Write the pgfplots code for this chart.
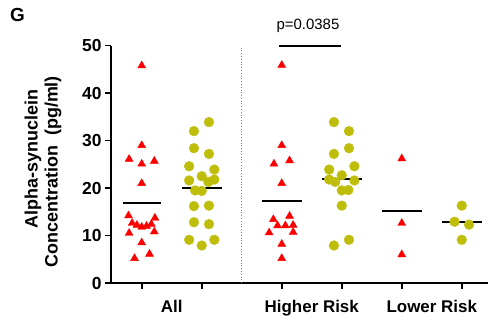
\documentclass[border=0pt]{standalone}
\usepackage{pgfplots}
\pgfplotsset{compat=1.18}
\usepackage{fontspec}
\setmainfont{Liberation Sans}
\definecolor{myred}{RGB}{250,0,0}
\definecolor{myyel}{RGB}{190,190,10}
\begin{document}
\begin{tikzpicture}
\path[use as bounding box] (0,0) rectangle (489bp,320bp);
\begin{axis}[
  at={(111bp,37bp)}, anchor=south west,
  scale only axis, width=377bp, height=237.3bp,
  xmin=-0.512, xmax=5.77, ymin=0, ymax=50,
  axis x line*=bottom, axis y line*=left,
  axis line style={line width=1.6bp, black},
  tick style={line width=1.6bp, black},
  tick align=outside, major tick length=6bp,
  xtick={0,1,2.3333,3.3333,4.3333,5.3333},
  xticklabels={},
  ytick={0,10,20,30,40,50},
  yticklabel style={font=\fontsize{17.5}{17.5}\selectfont\bfseries},
  /pgf/number format/assume math mode=true,
  clip=false,
]
% separator
\addplot[gray, dotted, line width=0.8bp] coordinates {(1.6667,0) (1.6667,50)};
% All red
\addplot[only marks, mark=triangle*, mark size=4.6pt, myred, mark options={draw=none, fill=myred}] coordinates {
(0,45.8) (0,29.0) (-0.21,26.1) (0,25.1) (0.21,25.7) (0,21.0) (-0.22,14.2) (0.22,13.7)
(-0.16,12.6) (-0.08,12.2) (0,11.8) (0.08,12.0) (0.16,12.4)
(-0.21,10.5) (0.21,10.8) (0,8.5) (0.13,6.1) (-0.12,5.2)};
% All yellow
\addplot[only marks, mark=*, mark size=4.9pt, myyel, mark options={draw=none, fill=myyel}] coordinates {
(1.12,33.9) (0.87,32.0) (0.87,28.4) (1.12,27.2) (0.79,24.6) (1.21,23.9) (0.79,21.6) (1.0,22.5)
(1.21,21.8) (1.11,21.3) (0.89,19.5) (1.0,19.4) (0.87,16.2) (1.12,16.3) (0.87,12.8) (1.12,12.4)
(0.79,9.1) (1.0,7.9) (1.21,9.1)};
% Higher red
\addplot[only marks, mark=triangle*, mark size=4.6pt, myred, mark options={draw=none, fill=myred}] coordinates {
(2.3333,45.9) (2.3333,29.0) (2.2033,25.1) (2.4633,25.8) (2.3333,21.0) (2.1933,13.4) (2.4633,14.1)
(2.2633,12.1) (2.3933,12.1) (2.5233,12.2) (2.1233,10.6) (2.5233,10.7) (2.3333,8.2) (2.3333,5.2)};
% Higher yellow
\addplot[only marks, mark=*, mark size=4.9pt, myyel, mark options={draw=none, fill=myyel}] coordinates {
(3.2033,33.9) (3.4533,32.0) (3.4533,28.4) (3.2033,27.2) (3.5433,24.6) (3.1233,23.9) (3.3333,22.7)
(3.1233,21.8) (3.2233,21.3) (3.5433,21.6) (3.3333,19.5) (3.4433,19.6) (3.3333,16.3) (3.4533,9.1) (3.2033,7.9)};
% Lower red
\addplot[only marks, mark=triangle*, mark size=4.6pt, myred, mark options={draw=none, fill=myred}] coordinates {
(4.3333,26.2) (4.3333,12.6) (4.3333,6.0)};
% Lower yellow
\addplot[only marks, mark=*, mark size=4.9pt, myyel, mark options={draw=none, fill=myyel}] coordinates {
(5.3333,16.3) (5.2133,12.9) (5.4533,12.3) (5.3333,9.1)};
% means
\addplot[black, line width=2bp] coordinates {(-0.32,16.9) (0.32,16.9)};
\addplot[black, line width=2bp] coordinates {(0.67,20.1) (1.33,20.1)};
\addplot[black, line width=2bp] coordinates {(2.0,17.3) (2.6667,17.3)};
\addplot[black, line width=2bp] coordinates {(3.0,22.0) (3.6667,22.0)};
\addplot[black, line width=2bp] coordinates {(4.0,15.1) (4.6667,15.1)};
\addplot[black, line width=2bp] coordinates {(5.0,12.8) (5.6667,12.8)};
% significance bar
\addplot[black, line width=2bp] coordinates {(2.29,49.9) (3.32,49.9)};
% group labels
\node[anchor=base, font=\fontsize{17}{17}\selectfont\bfseries] at (axis cs:0.5,0) [yshift=-29.7bp] {All};
\node[anchor=base, font=\fontsize{17}{17}\selectfont\bfseries] at (axis cs:2.8333,0) [yshift=-29.7bp] {Higher Risk};
\node[anchor=base, font=\fontsize{17}{17}\selectfont\bfseries] at (axis cs:4.8333,0) [yshift=-29.7bp] {Lower Risk};
\end{axis}
\node[rotate=90, font=\fontsize{18}{18}\selectfont\bfseries, inner sep=0] at (33bp,161bp) {Alpha-synuclein};
\node[rotate=90, font=\fontsize{18}{18}\selectfont\bfseries, inner sep=0] at (53bp,148.3bp) {Concentration\ \ (pg/ml)};
\node[font=\fontsize{19}{19}\selectfont\bfseries, inner sep=0] at (17.5bp,305bp) {G};
\node[anchor=base, font=\fontsize{15}{15}\selectfont, inner sep=0] at (308bp,290.7bp) {p=0.0385};
\end{tikzpicture}
\end{document}
